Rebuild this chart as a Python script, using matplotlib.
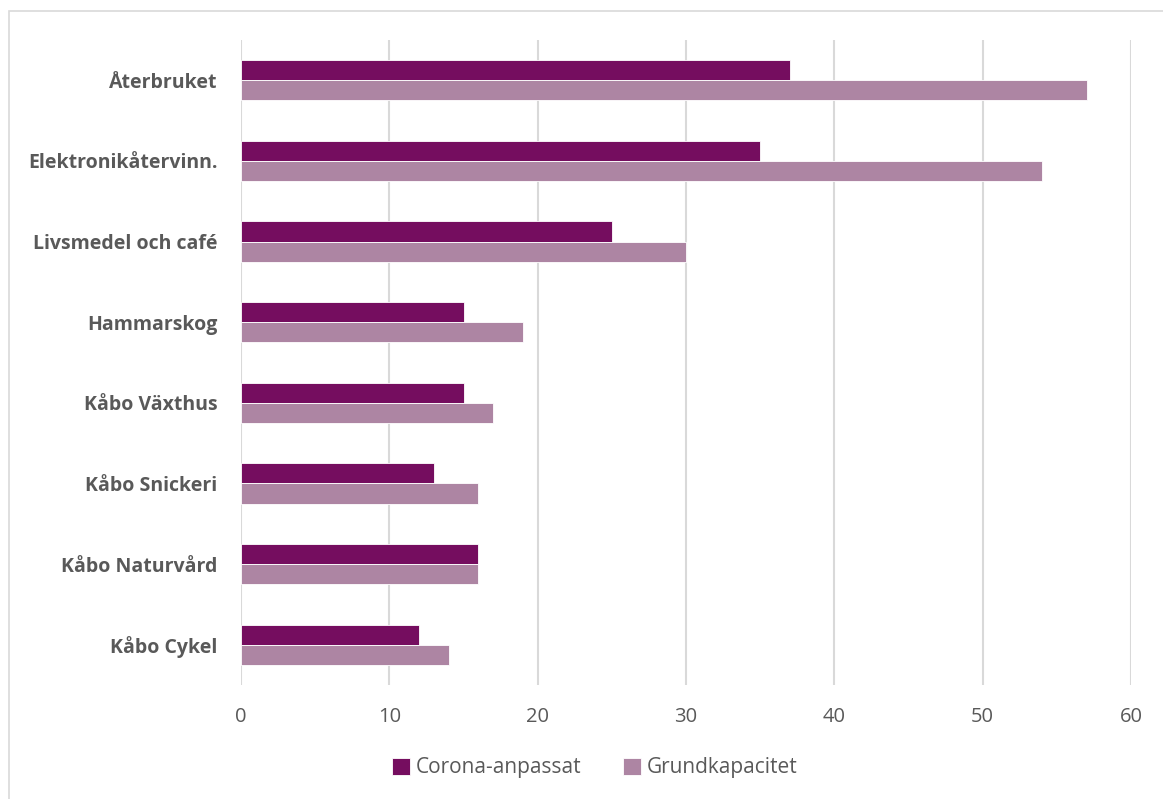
import matplotlib.pyplot as plt
import numpy as np
from matplotlib.patches import Rectangle

categories = ['Återbruket', 'Elektronikåtervinn.', 'Livsmedel och café', 'Hammarskog',
              'Kåbo Växthus', 'Kåbo Snickeri', 'Kåbo Naturvård', 'Kåbo Cykel']
corona = [37, 35, 25, 15, 15, 13, 16, 12]
grund = [57, 54, 30, 19, 17, 16, 16, 14]
xticks = [0, 10, 20, 30, 40, 50, 60]

dark = '#750D5F'
light = '#AD85A3'
txt = '#595959'

plt.rcParams['font.family'] = ['Open Sans', 'DejaVu Sans']

fig = plt.figure(figsize=(11.63, 7.99), dpi=100)
ax = fig.add_axes([241/1163, 1-685/799, (1131-241)/1163, (685-40)/799])

# outer chart border
fig.patches.append(Rectangle((9/1163, -0.01), 1.02, 1-11/799+0.01, transform=fig.transFigure,
                             fill=False, edgecolor='#D9D9D9', linewidth=1.2))

y = np.arange(len(categories))
h = 0.25
ax.barh(y - h/2, corona, height=h, color=dark, edgecolor='white', linewidth=0.6,
        label='Corona-anpassat', zorder=3)
ax.barh(y + h/2, grund, height=h, color=light, edgecolor='white', linewidth=0.6,
        label='Grundkapacitet', zorder=3)

ax.set_ylim(len(categories) - 0.5, -0.5)
ax.set_xlim(0, 60)
ax.set_xticks(xticks)
ax.set_yticks(y)
ax.set_yticklabels(categories, fontsize=14, fontweight='bold', color=txt)
ax.tick_params(axis='x', labelsize=14.5, colors=txt, length=0, pad=16)
ax.tick_params(axis='y', length=0, pad=17)
ax.grid(axis='x', color='#D9D9D9', linewidth=1.5, zorder=0)
for s in ax.spines.values():
    s.set_visible(False)

fig.legend(loc='center', bbox_to_anchor=(595/1163, 1-768/799), ncol=2, frameon=False,
           fontsize=15, labelcolor=txt, handlelength=0.85, handleheight=0.85,
           handletextpad=0.3, columnspacing=2.0)

fig.savefig('out.png', dpi=100)
